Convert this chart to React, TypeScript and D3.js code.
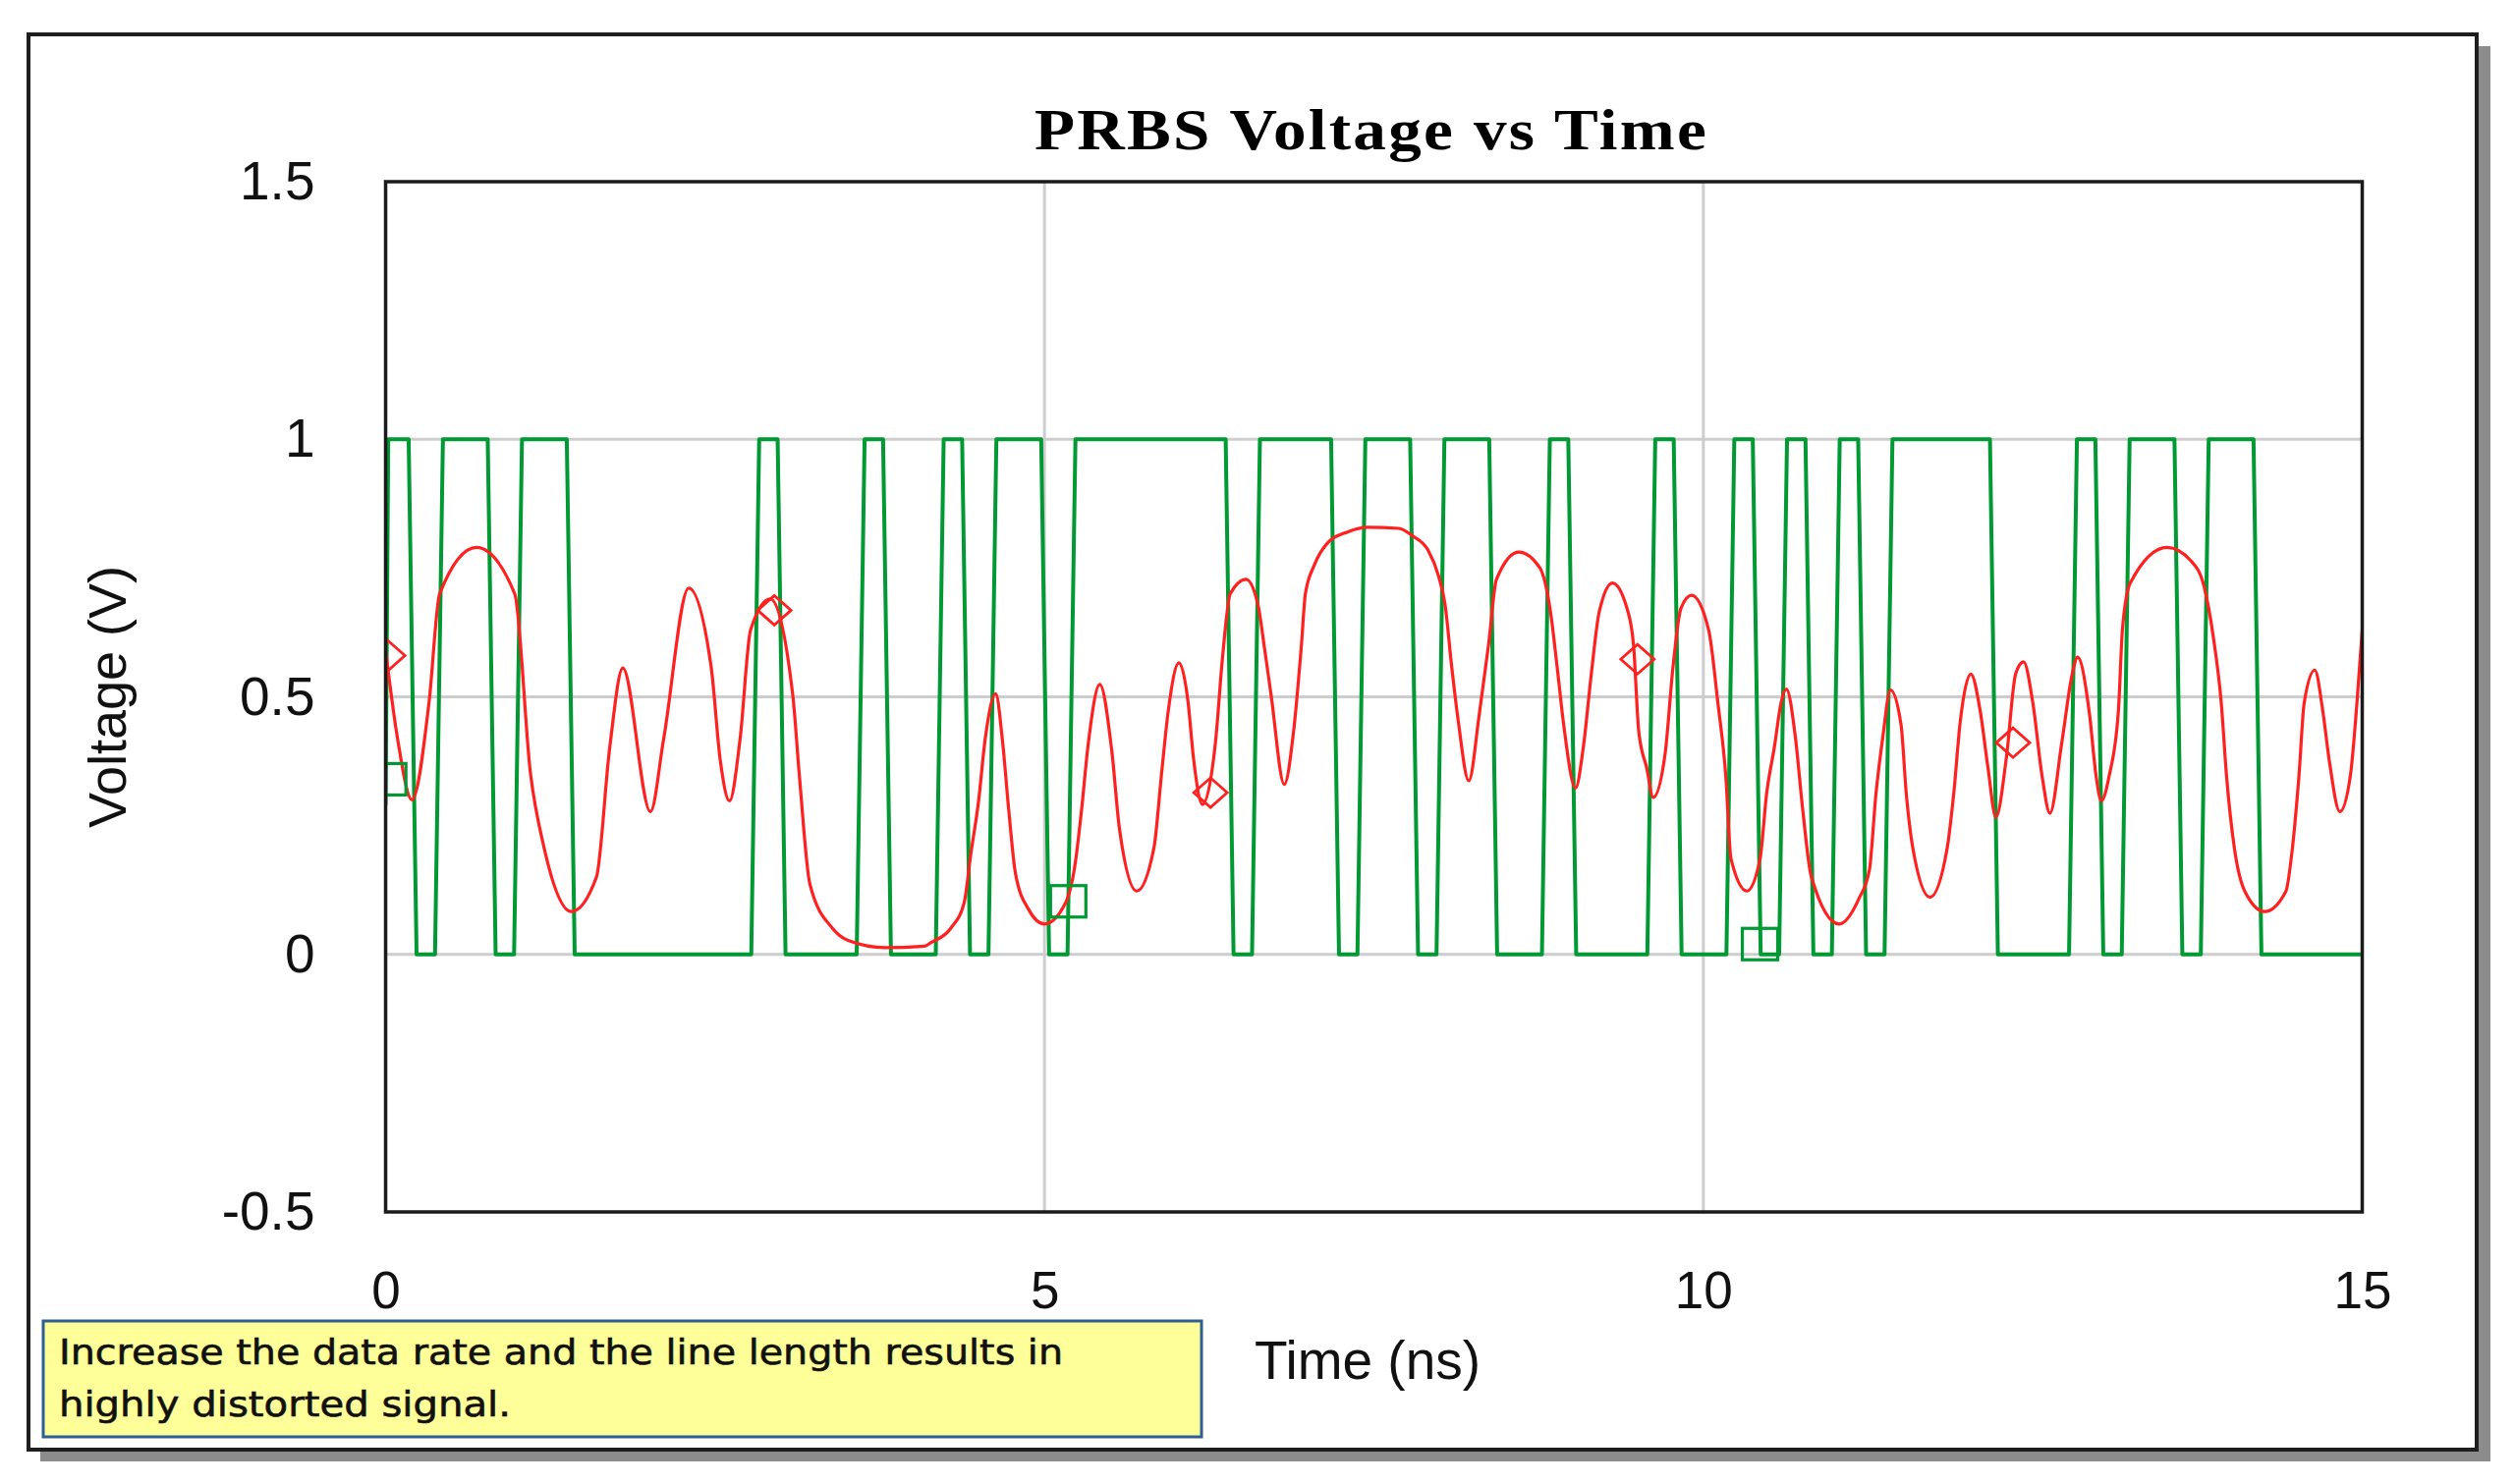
import * as d3 from "d3";
import { useEffect, useRef } from "react";

// PRBS bit stream, one entry per 0.2 ns unit interval (0..15 ns)
const greenBits = [
  1, 0, 1, 1, 0, 1, 1, 0, 0, 0, 0, 0, 0, 0, 1, 0, 0, 0, 1, 0,
  0, 1, 0, 1, 1, 0, 1, 1, 1, 1, 1, 1, 0, 1, 1, 1, 0, 1, 1, 0,
  1, 1, 0, 0, 1, 0, 0, 0, 1, 0, 0, 1, 0, 1, 0, 1, 0, 1, 1, 1,
  1, 0, 0, 0, 1, 0, 1, 1, 0, 1, 1, 0, 0, 0, 0,
];
const bitPeriod = 0.2;
const greenStart = 0.29;

// received (distorted) waveform, [time ns, volts]
const redWave: [number, number][] = [
  [0, 0.59], [0.09, 0.42], [0.2, 0.3], [0.33, 0.49], [0.41, 0.7], [0.69, 0.79],
  [0.98, 0.7], [1.1, 0.35], [1.2, 0.21], [1.41, 0.083], [1.6, 0.15], [1.7, 0.4],
  [1.8, 0.556], [2.01, 0.277], [2.11, 0.418], [2.3, 0.711], [2.47, 0.559], [2.54, 0.376],
  [2.61, 0.298], [2.69, 0.418], [2.77, 0.63], [2.92, 0.69], [3.09, 0.503], [3.14, 0.347],
  [3.22, 0.136], [3.39, 0.051], [3.51, 0.027], [3.79, 0.013], [4.09, 0.016], [4.14, 0.023],
  [4.29, 0.051], [4.39, 0.1], [4.44, 0.193], [4.5, 0.298], [4.55, 0.418], [4.63, 0.506],
  [4.68, 0.418], [4.73, 0.277], [4.78, 0.157], [4.88, 0.087], [5.0, 0.059], [5.16, 0.1],
  [5.23, 0.171], [5.28, 0.277], [5.33, 0.404], [5.42, 0.524], [5.51, 0.397], [5.57, 0.242],
  [5.7, 0.123], [5.83, 0.206], [5.89, 0.355], [5.94, 0.474], [6.02, 0.566], [6.09, 0.489],
  [6.13, 0.383], [6.2, 0.291], [6.3, 0.418], [6.35, 0.573], [6.41, 0.7], [6.53, 0.728],
  [6.62, 0.679], [6.67, 0.594], [6.72, 0.503], [6.82, 0.33], [6.89, 0.432], [6.95, 0.601],
  [6.98, 0.7], [7.05, 0.757], [7.15, 0.799], [7.3, 0.82], [7.45, 0.829], [7.69, 0.827],
  [7.79, 0.813], [7.91, 0.785], [7.99, 0.735], [8.04, 0.679], [8.09, 0.559], [8.14, 0.453],
  [8.22, 0.337], [8.3, 0.467], [8.37, 0.601], [8.43, 0.728], [8.6, 0.781], [8.76, 0.75],
  [8.84, 0.665], [8.89, 0.559], [8.94, 0.446], [9.03, 0.323], [9.09, 0.404], [9.15, 0.545],
  [9.21, 0.665], [9.31, 0.721], [9.42, 0.672], [9.47, 0.601], [9.51, 0.432], [9.57, 0.362],
  [9.62, 0.305], [9.71, 0.39], [9.77, 0.559], [9.83, 0.672], [9.91, 0.697], [10.04, 0.63],
  [10.11, 0.489], [10.17, 0.347], [10.21, 0.185], [10.33, 0.123], [10.43, 0.185], [10.48, 0.312],
  [10.54, 0.404], [10.59, 0.489], [10.63, 0.515], [10.7, 0.418], [10.75, 0.291], [10.82, 0.15],
  [11.03, 0.059], [11.18, 0.108], [11.26, 0.164], [11.31, 0.312], [11.36, 0.418], [11.42, 0.513],
  [11.5, 0.446], [11.54, 0.312], [11.59, 0.206], [11.72, 0.111], [11.85, 0.206], [11.9, 0.312],
  [11.95, 0.453], [12.03, 0.544], [12.1, 0.474], [12.16, 0.362], [12.22, 0.266], [12.3, 0.383],
  [12.37, 0.545], [12.43, 0.568], [12.5, 0.489], [12.57, 0.347], [12.63, 0.274], [12.72, 0.411],
  [12.8, 0.545], [12.84, 0.577], [12.93, 0.467], [12.98, 0.347], [13.02, 0.298], [13.08, 0.347],
  [13.15, 0.474], [13.18, 0.63], [13.24, 0.721], [13.52, 0.79], [13.7, 0.764], [13.8, 0.714],
  [13.87, 0.616], [13.93, 0.489], [13.97, 0.347], [14.03, 0.206], [14.11, 0.122], [14.26, 0.083],
  [14.42, 0.122], [14.47, 0.206], [14.52, 0.347], [14.56, 0.489], [14.64, 0.552], [14.7, 0.474],
  [14.75, 0.376], [14.83, 0.277], [14.91, 0.347], [14.96, 0.489], [15.0, 0.63],
];

// series markers
const greenMarkers: [number, number][] = [[0.02, 0.34], [5.18, 0.103], [10.43, 0.02]];
const redMarkers: [number, number][] = [[0.02, 0.58], [2.95, 0.668], [6.26, 0.314], [9.5, 0.573], [12.35, 0.411]];

const xTicks = [0, 5, 10, 15];
const yTicks = [-0.5, 0, 0.5, 1, 1.5];
const yTickLabels = ["-0.5", "0", "0.5", "1", "1.5"];
const xGrid = [5, 10];
const yGrid = [0, 0.5, 1];

const title = "PRBS Voltage vs Time";
const xLabel = "Time (ns)";
const yLabel = "Voltage (V)";
const noteLines = ["Increase the data rate and the line length results in", "highly distorted signal."];

const GREEN = "#009933";
const RED = "#ff2020";

export default function App() {
  const ref = useRef<SVGSVGElement>(null);

  useEffect(() => {
    const svg = d3.select(ref.current);
    svg.selectAll("*").remove();

    const W = 2560, H = 1511;
    const left = 392.5, right = 2404.5, top = 185, bottom = 1234;

    const x = d3.scaleLinear().domain([0, 15]).range([left, right]);
    const y = d3.scaleLinear().domain([-0.5, 1.5]).range([bottom, top]);

    svg.append("rect").attr("width", W).attr("height", H).attr("fill", "#fff");

    // outer panel with drop shadow
    svg.append("rect").attr("x", 41).attr("y", 47).attr("width", 2494).attr("height", 1441).attr("fill", "#8c8c8c");
    svg.append("rect").attr("x", 29).attr("y", 35).attr("width", 2492).attr("height", 1441)
      .attr("fill", "#fff").attr("stroke", "#1e1e1e").attr("stroke-width", 4);

    // title (glyphs stretched wide like the source)
    svg.append("text")
      .attr("x", 1053).attr("y", 152)
      .attr("font-family", "'Liberation Serif', 'Times New Roman', serif")
      .attr("font-weight", "bold").attr("font-size", 60).attr("letter-spacing", 2)
      .attr("textLength", 686).attr("lengthAdjust", "spacingAndGlyphs")
      .text(title);

    // grid
    svg.append("g").selectAll("line").data(yGrid).enter().append("line")
      .attr("x1", left).attr("x2", right)
      .attr("y1", (d) => y(d)).attr("y2", (d) => y(d))
      .attr("stroke", "#cdcdcd").attr("stroke-width", 3);
    svg.append("g").selectAll("line").data(xGrid).enter().append("line")
      .attr("y1", top).attr("y2", bottom)
      .attr("x1", (d) => x(d)).attr("x2", (d) => x(d))
      .attr("stroke", "#cdcdcd").attr("stroke-width", 3);

    // axes (labels only)
    const yAxis = d3.axisLeft(y).tickValues(yTicks).tickSize(0).tickPadding(72)
      .tickFormat((d, i) => yTickLabels[i]);
    const gy = svg.append("g").attr("transform", `translate(${left},0)`).call(yAxis);
    gy.select(".domain").remove();
    gy.selectAll("text").attr("font-size", 55).attr("fill", "#111")
      .attr("font-family", "'Liberation Sans', Arial, sans-serif");

    const xAxis = d3.axisBottom(x).tickValues(xTicks).tickSize(0).tickPadding(60)
      .tickFormat(d3.format("d"));
    const gx = svg.append("g").attr("transform", `translate(0,${bottom})`).call(xAxis);
    gx.select(".domain").remove();
    gx.selectAll("text").attr("font-size", 53).attr("fill", "#111")
      .attr("font-family", "'Liberation Sans', Arial, sans-serif");

    // axis titles
    svg.append("text")
      .attr("x", 1392).attr("y", 1404).attr("text-anchor", "middle")
      .attr("font-family", "'Liberation Sans', Arial, sans-serif").attr("font-size", 55).attr("fill", "#111")
      .text(xLabel);
    svg.append("text")
      .attr("transform", `translate(128,${y(0.5)}) rotate(-90)`)
      .attr("text-anchor", "middle")
      .attr("font-family", "'Liberation Sans', Arial, sans-serif").attr("font-size", 54).attr("fill", "#111")
      .text(yLabel);

    // clip for data
    svg.append("clipPath").attr("id", "plotclip").append("rect")
      .attr("x", left).attr("y", top).attr("width", right - left).attr("height", bottom - top);
    const plot = svg.append("g").attr("clip-path", "url(#plotclip)");

    // green square wave from bits
    const rise = 0.06;
    const greenPts: [number, number][] = [[0, greenStart], [0.02, greenBits[0]]];
    let prev = greenBits[0];
    for (let i = 1; i < greenBits.length; i++) {
      const b = greenBits[i];
      if (b !== prev) {
        const te = i * bitPeriod + 0.005;
        greenPts.push([te - rise / 2, prev], [te + rise / 2, b]);
        prev = b;
      }
    }
    greenPts.push([15, prev]);

    const line = d3.line<[number, number]>().x((d) => x(d[0])).y((d) => y(d[1]));
    plot.append("path").datum(greenPts).attr("d", line)
      .attr("fill", "none").attr("stroke", GREEN).attr("stroke-width", 4).attr("stroke-linejoin", "round");

    const smooth = d3.line<[number, number]>().curve(d3.curveMonotoneX).x((d) => x(d[0])).y((d) => y(d[1]));
    plot.append("path").datum(redWave).attr("d", smooth)
      .attr("fill", "none").attr("stroke", RED).attr("stroke-width", 3.2);

    // markers
    plot.selectAll(".gm").data(greenMarkers).enter().append("rect")
      .attr("class", "gm")
      .attr("x", (d) => x(d[0]) - 18).attr("y", (d) => y(d[1]) - 16)
      .attr("width", 36).attr("height", 32)
      .attr("fill", "none").attr("stroke", GREEN).attr("stroke-width", 3.2);
    plot.selectAll(".rm").data(redMarkers).enter().append("path")
      .attr("class", "rm")
      .attr("d", (d) => {
        const cx = x(d[0]), cy = y(d[1]);
        return `M${cx - 17},${cy}L${cx},${cy - 15}L${cx + 17},${cy}L${cx},${cy + 15}Z`;
      })
      .attr("fill", "none").attr("stroke", RED).attr("stroke-width", 2.8);

    // plot frame
    svg.append("rect").attr("x", left).attr("y", top).attr("width", right - left).attr("height", bottom - top)
      .attr("fill", "none").attr("stroke", "#1a1a1a").attr("stroke-width", 3.5);

    // annotation note
    svg.append("rect").attr("x", 44).attr("y", 1345).attr("width", 1179).attr("height", 118)
      .attr("fill", "#ffff99").attr("stroke", "#2f5f92").attr("stroke-width", 3);
    const noteLens = [1022, 460];
    svg.append("g").selectAll("text").data(noteLines).enter().append("text")
      .attr("x", 60).attr("y", (d, i) => 1389 + i * 53)
      .attr("font-family", "'DejaVu Sans', Verdana, sans-serif").attr("font-size", 36).attr("fill", "#111")
      .attr("stroke", "#111").attr("stroke-width", 0.6)
      .attr("textLength", (d, i) => noteLens[i]).attr("lengthAdjust", "spacingAndGlyphs")
      .text((d) => d);
  }, []);

  return (
    <svg ref={ref} width={2560} height={1511}
      style={{ position: "absolute", left: 0, top: 0, display: "block" }} />
  );
}
